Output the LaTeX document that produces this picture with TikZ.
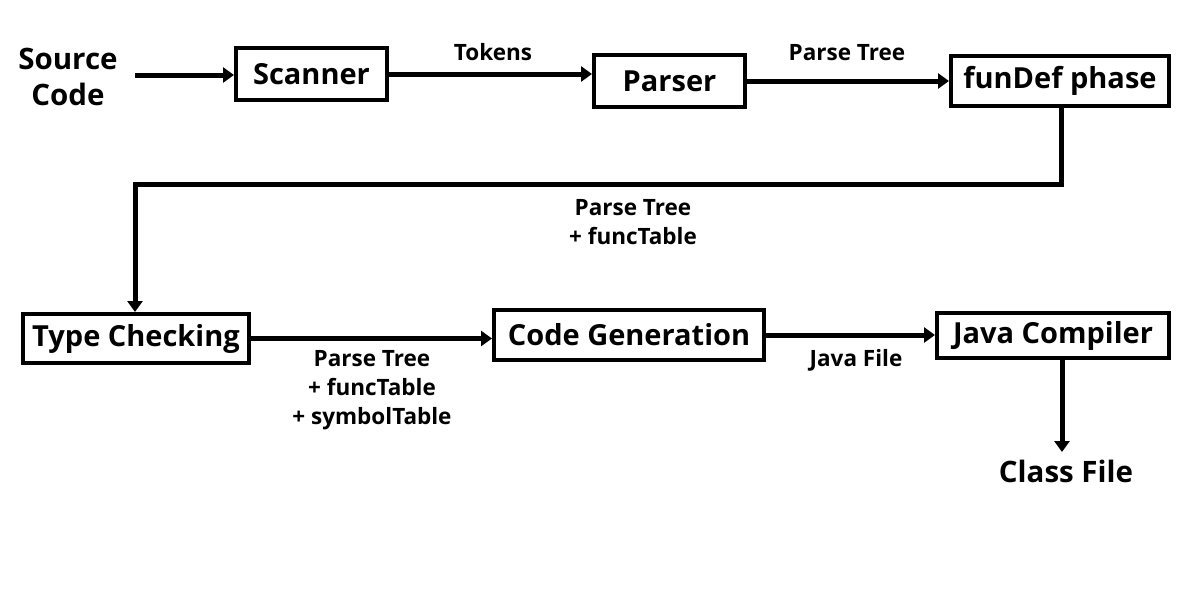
\documentclass[tikz,border=0pt]{standalone}
\usepackage{fontspec}
\setmainfont{Open Sans}
\usetikzlibrary{arrows.meta}
\begin{document}
\begin{tikzpicture}[x=1pt,y=-1pt,
  stage/.style={draw,line width=4pt,inner sep=0pt,font=\bfseries\fontsize{29}{32}\selectfont},
  lbl/.style={inner sep=0pt,align=center,font=\bfseries\fontsize{22.5}{29}\selectfont},
  big/.style={inner sep=0pt,align=center,font=\bfseries\fontsize{29.5}{36}\selectfont},
  flow/.style={line width=5pt,-{Triangle[length=11pt,width=15pt]}}]
\useasboundingbox (0,0) rectangle (1200,600);
\node[big] (src) at (68,77) {Source\\Code};
\node[stage,minimum width=151pt,minimum height=52pt] (scan) at (311.5,74) {Scanner};
\node[stage,minimum width=151pt,minimum height=52pt] (pars) at (669.5,81) {Parser};
\node[stage,minimum width=218pt,minimum height=50pt] (fdef) at (1060,81) {funDef phase};
\node[stage,minimum width=226pt,minimum height=49pt] (tchk) at (136,338.5) {Type Checking};
\node[stage,minimum width=270pt,minimum height=50pt] (cgen) at (629,335) {Code Generation};
\node[stage,minimum width=232pt,minimum height=45pt] (jcmp) at (1053,335.5) {Java Compiler};
\node[big] (cls) at (1066,471) {Class File};
\coordinate (srcend) at (135,75);
\coordinate (bendR) at (1061,184);
\coordinate (bendL) at (135,184);
\coordinate (clsend) at (1062,452);
\draw[flow] (srcend) -- (srcend -| scan.west);
\draw[flow] (scan.east) -- (scan.east -| pars.west);
\node[lbl] (ltok) at (493,52) {Tokens};
\draw[flow] (pars.east) -- (pars.east -| fdef.west);
\node[lbl] (lpt) at (847,53) {Parse Tree};
\draw[flow] (fdef.south -| bendR) -- (bendR) -- (bendL) -- (bendL |- tchk.north);
\node[lbl] (lpf) at (633,222) {Parse Tree\\+ funcTable};
\draw[flow] (tchk.east) -- (tchk.east -| cgen.west);
\node[lbl] (lpfs) at (372,390) {Parse Tree\\+ funcTable\\+ symbolTable};
\draw[flow] (cgen.east) -- (cgen.east -| jcmp.west);
\node[lbl] (ljf) at (856,360) {Java File};
\draw[flow] (jcmp.south -| clsend) -- (clsend);
\end{tikzpicture}
\end{document}
